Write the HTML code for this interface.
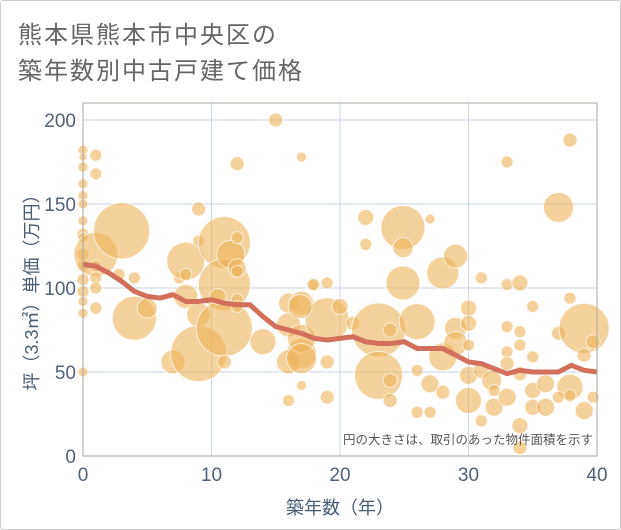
<!DOCTYPE html>
<html><head><meta charset="utf-8"><style>
html,body{margin:0;padding:0;background:#fff;}
#wrap{position:relative;width:621px;height:530px;overflow:hidden;font-family:"Liberation Sans","Noto Sans CJK JP",sans-serif;}
#frame{position:absolute;left:0;top:0;width:619px;height:528px;border:1px solid #ccc;border-radius:3px;}
.title{position:absolute;left:18px;font-size:24px;color:#666;letter-spacing:2px;white-space:nowrap;}
</style></head><body>
<div id="wrap">
<div id="frame"></div>
<div class="title" style="top:15px">熊本県熊本市中央区の</div>
<div class="title" style="top:51px">築年数別中古戸建て価格</div>
<svg id="chart" width="621" height="530" style="position:absolute;left:0;top:0"></svg>
</div>
<script>
const xTicks=[0,10,20,30,40];
const yTicks=[0,50,100,150,200];
const bubbleX=[0,0,0,0,0,0,0,0,0,0,0,0,0,0,0,0,1,1,1,1,1,1,1,3,2.8,4,4,5,7,7.5,8,8,8,9,9,9,9,11,11,11,11,11.5,12,12,12,12,10.5,12,12,15,14,16,16,17,16,17,17,16,17,17,17,18,17.9,19,19,16.9,20,21,23,23,23.9,23.9,24.9,24.9,24.9,27,22,22,26,23.9,26,27,26,27,28,28,28,29,29,29,30,30,30,30,30,31,31,31.8,32,31,32,33,33,34,33,34,34,33,33,34,33,34,34,35,35,35,35,36,36,37,37,37.9,37.9,39,39,37.9,37.9,39,39.7,39.7,37,19,19];
const bubbleY=[182,178,172,162,155,150,140,132,130,120,113,105,98,92,85,50,179,168,120,113,106,100,88,134,108,106,82,88,56,106,95,116,108,61,84,128,147,127,102,76,56,120,112,110,174,130,95,93,89,200,68,78,91,61,56,178,42,33,91,70,58,102,102,103,81,89,89,79,75,48,45,33,136,124,103,141,142,126,80,75,51,43,26,26,59,38,109,119,76,67,88,79,66,48,33,106,51,45,39,21,29,175,102,103,77,74,66,62,55,49,35,18,5,89,59,39,29,43,29,148,73,188,94,76,60,41,36,27,68,35,35,56,35];
const bubbleR=[5,4,5,5,5,5,5,6,5,6,6,6,6,5,5,5,6,6,22,6,6,6,6,28,6,6,22,10,12,6,12,19,6,28,12,6,7,26,26,28,7,14,9,6,7,6,8,6,6,7,13,12,10,15,12,5,5,6,12,14,15,6,6,6,22,12,8,7,27,24,7,7,22,10,17,5,8,6,18,7,6,9,6,6,14,7,16,12,11,12,8,8,6,9,13,6,8,10,6,6,9,6,6,8,6,6,6,6,7,7,9,8,7,6,6,8,8,9,9,15,7,7,6,25,7,13,6,9,7,6,6,7,7];
const trendX=[0,1,2,3,4,5,6,7,8,9,10,11,12,13,14,15,16,17,18,19,20,21,22,23,24,25,26,27,28,29,30,31,32,33,34,35,36,37,38,39,40];
const trendY=[114,113,109,104,98,95,94,96,92,92,93,91,90,90,83,77,75,73,70,69,70,71,68,67,67,68,64,64,64,60,56,55,52,49,51,50,50,50,54,51,50];

const L=83,R=597,T=103,B=456;
const sx=v=>L+(v-0)/40*(R-L);
const sy=v=>456-v*(456-120)/200;
const NS='http://www.w3.org/2000/svg';
const svg=document.getElementById('chart');
function mk(tag,attrs,parent){const e=document.createElementNS(NS,tag);for(const k in attrs)e.setAttribute(k,attrs[k]);(parent||svg).appendChild(e);return e;}

const grid=mk('g',{});


xTicks.forEach(t=>{mk('line',{x1:sx(t),x2:sx(t),y1:T,y2:B,stroke:'#c9d6e4','stroke-width':1},grid);});
yTicks.forEach(t=>{mk('line',{x1:L,x2:R,y1:sy(t),y2:sy(t),stroke:'#c9d6e4','stroke-width':1},grid);});

const bub=mk('g',{});


bubbleX.forEach((x,i)=>{
  const c=mk('circle',{cx:sx(x),cy:sy(bubbleY[i]),r:bubbleR[i],fill:'#efb35a','fill-opacity':0.6,stroke:'#fff','stroke-opacity':0.7,'stroke-width':1},bub);
  
  
});

const tl=mk('polyline',{points:trendX.map((x,i)=>sx(x)+','+sy(trendY[i])).join(' '),fill:'none',stroke:'#d3705c','stroke-width':5,'stroke-linejoin':'round'});



const border=mk('rect',{x:L,y:T,width:R-L,height:B-T,fill:'none',stroke:'#a8a89c','stroke-width':1});



xTicks.forEach(t=>{
  const e=mk('text',{x:sx(t),y:481,'text-anchor':'middle','font-size':19,fill:'#50627a'});
  e.textContent=t;
  
  
});
yTicks.forEach(t=>{
  const e=mk('text',{x:76,y:sy(t)+7,'text-anchor':'end','font-size':19,fill:'#50627a'});
  e.textContent=t;
  
  
});
const xt=mk('text',{x:340,y:514,'text-anchor':'middle','font-size':18,fill:'#4a5d75'});
xt.textContent='築年数（年）';


const yt=mk('text',{x:0,y:0,'text-anchor':'middle','font-size':18,fill:'#4a5d75',transform:'translate(38,288) rotate(-90)'});
yt.textContent='坪（3.3㎡）単価（万円）';


const note=mk('text',{x:593,y:444,'text-anchor':'end','font-size':12.5,fill:'#555'});
note.textContent='円の大きさは、取引のあった物件面積を示す';


</script>
</body></html>
